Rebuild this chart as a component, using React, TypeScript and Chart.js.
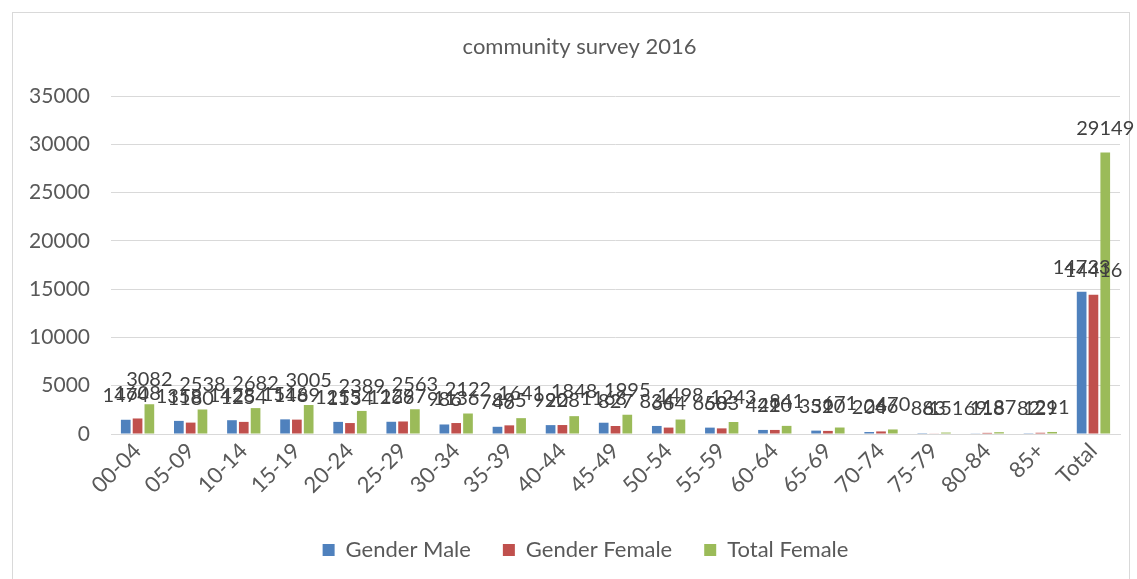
import React, { useEffect, useRef } from "react";
import { Chart, registerables } from "chart.js";

Chart.register(...registerables);

const categories = ["00-04", "05-09", "10-14", "15-19", "20-24", "25-29", "30-34", "35-39", "40-44", "45-49", "50-54", "55-59", "60-64", "65-69", "70-74", "75-79", "80-84", "85+", "Total"];
const genderMale = [1474, 1358, 1428, 1516, 1255, 1266, 986, 746, 920, 1168, 834, 660, 421, 351, 204, 88, 69, 82, 14733];
const genderFemale = [1608, 1180, 1254, 1489, 1134, 1297, 1136, 895, 928, 827, 664, 583, 420, 320, 266, 63, 118, 129, 14416];
const totalFemale = [3082, 2538, 2682, 3005, 2389, 2563, 2122, 1641, 1848, 1995, 1498, 1243, 841, 671, 470, 151, 187, 211, 29149];
const seriesNames = ["Gender Male", "Gender Female", "Total Female"];
const seriesColors = ["#4F81BD", "#C0504D", "#9BBB59"];
const titleText = "community survey 2016";

const FONT = "Lato, 'Open Sans', sans-serif";

const framePlugin = {
  id: "frame",
  beforeDraw(chart: any) {
    const ctx = chart.ctx;
    ctx.save();
    ctx.fillStyle = "#ffffff";
    ctx.fillRect(0, 0, chart.width, chart.height);
    ctx.strokeStyle = "#D9D9D9";
    ctx.lineWidth = 1;
    ctx.strokeRect(12.5, 12.5, 1117, 620);
    ctx.restore();
  },
};

const shiftPlugin = {
  id: "boxShift",
  afterLayout(chart: any) {
    const lg = chart.legend;
    if (lg) {
      lg.left += 25.5;
      lg.right += 25.5;
    }
    const tb = chart.titleBlock;
    if (tb) {
      tb.left += 19.5;
      tb.right += 19.5;
    }
  },
};

const labelsPlugin = {
  id: "barLabels",
  afterDatasetsDraw(chart: any) {
    const ctx = chart.ctx;
    ctx.save();
    ctx.font = `20px ${FONT}`;
    ctx.fillStyle = "#404040";
    ctx.textAlign = "center";
    ctx.textBaseline = "alphabetic";
    chart.data.datasets.forEach((ds: any, di: number) => {
      const meta = chart.getDatasetMeta(di);
      meta.data.forEach((el: any, i: number) => {
        ctx.fillText(String(ds.data[i]), el.x, el.y - 18);
      });
    });
    ctx.restore();
  },
};

export default function App() {
  const ref = useRef<HTMLCanvasElement | null>(null);
  useEffect(() => {
    if (!ref.current) return;
    Chart.defaults.font.family = FONT;
    const chart = new Chart(ref.current, {
      type: "bar",
      data: {
        labels: categories,
        datasets: [genderMale, genderFemale, totalFemale].map((d, i) => ({
          label: seriesNames[i],
          data: d,
          backgroundColor: seriesColors[i],
          borderWidth: 0,
          categoryPercentage: 0.667,
          barPercentage: 0.82,
        })),
      },
      options: {
        responsive: false,
        animation: false,
        devicePixelRatio: 1,
        layout: { padding: { left: 0, right: 17, top: 0, bottom: 8 } },
        plugins: {
          title: {
            display: true,
            text: titleText,
            color: "#595959",
            font: { size: 22, weight: "normal", family: FONT },
            padding: { top: 34, bottom: 35.6 },
          },
          legend: {
            position: "bottom",
            labels: {
              boxWidth: 12,
              boxHeight: 12,
              padding: 32,
              color: "#595959",
              font: { size: 22, family: FONT },
            },
          },
          tooltip: { enabled: false },
        },
        scales: {
          x: {
            grid: { display: false, drawTicks: false },
            border: { display: true, color: "#D9D9D9" },
            ticks: {
              color: "#595959",
              font: { size: 22, family: FONT },
              minRotation: 45,
              maxRotation: 45,
              padding: 4,
            },
            afterFit(scale: any) {
              scale.height = 73;
            },
          },
          y: {
            min: 0,
            max: 35000,
            grid: { color: "#D9D9D9", drawTicks: false },
            border: { display: false },
            ticks: {
              stepSize: 5000,
              color: "#595959",
              font: { size: 21, family: FONT },
              padding: 21,
              callback: (v: any) => String(v),
            },
            afterFit(scale: any) {
              scale.width = 111;
            },
          },
        },
      },
      plugins: [framePlugin, labelsPlugin, shiftPlugin],
    });
    return () => chart.destroy();
  }, []);
  return (
    <div style={{ position: "fixed", left: 0, top: 0, width: 1137, height: 579, background: "#fff" }}>
      <canvas ref={ref} width={1137} height={579} style={{ width: 1137, height: 579 }} />
    </div>
  );
}
